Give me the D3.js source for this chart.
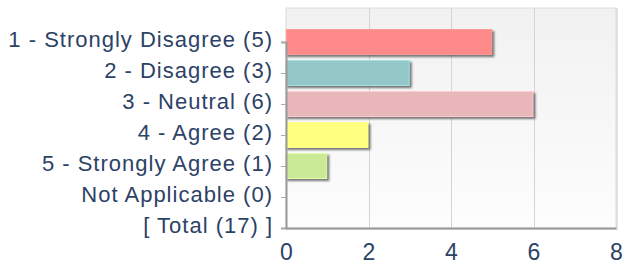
<!DOCTYPE html>
<html>
<head>
<meta charset="utf-8">
<script src="https://cdn.jsdelivr.net/npm/d3@7"></script>
<style>
  html, body { margin: 0; padding: 0; background: #ffffff; }
  svg { display: block; font-family: "Liberation Sans", Arial, sans-serif; }
</style>
</head>
<body>
<svg id="chart" width="623" height="267"></svg>
<script>
// answers and counts
const categories = [
  '1 - Strongly Disagree (5)',
  '2 - Disagree (3)',
  '3 - Neutral (6)',
  '4 - Agree (2)',
  '5 - Strongly Agree (1)',
  'Not Applicable (0)',
  '[ Total (17) ]'
];
const counts = [5, 3, 6, 2, 1, 0];
const barColors = ['#ff8a8a', '#94c8c8', '#e9b6bb', '#ffff80', '#cbea98', '#cccccc'];
const xTicks = [0, 2, 4, 6, 8];

const width = 623, height = 267;
const margin = {top: 8, right: 7, bottom: 39, left: 286};
const textColor = '#2c4266';

const svg = d3.select('#chart');

const x = d3.scaleLinear()
    .domain([0, 8])
    .range([margin.left, width - margin.right]);

const y = d3.scalePoint()
    .domain(categories)
    .range([42, height - margin.bottom]);

const barH = 26;

// plot background
const defs = svg.append('defs');
const grad = defs.append('linearGradient')
    .attr('id', 'bg')
    .attr('x1', 0).attr('y1', 0).attr('x2', 0).attr('y2', 1);
grad.append('stop').attr('offset', '0%').attr('stop-color', '#f1f1f1');
grad.append('stop').attr('offset', '100%').attr('stop-color', '#fdfdfd');

const shadow = defs.append('filter')
    .attr('id', 'soft')
    .attr('x', '-10%').attr('y', '-30%')
    .attr('width', '120%').attr('height', '160%');
shadow.append('feGaussianBlur').attr('stdDeviation', 0.8);

svg.append('rect')
    .attr('x', margin.left + 1)
    .attr('y', margin.top + 1)
    .attr('width', x(8) - margin.left)
    .attr('height', height - margin.bottom - margin.top)
    .attr('fill', 'none')
    .attr('stroke', '#e4e4e4')
    .attr('stroke-width', 2);

svg.append('rect')
    .classed('boundary', true)
    .attr('x', margin.left)
    .attr('y', margin.top)
    .attr('width', x(8) - margin.left)
    .attr('height', height - margin.bottom - margin.top)
    .attr('fill', 'url(#bg)')
    .attr('stroke', '#dadada')
    .attr('stroke-width', 1);

// vertical grid
svg.append('g')
    .attr('class', 'grid')
  .selectAll('line')
  .data(xTicks.slice(1, -1))
  .join('line')
    .attr('x1', d => Math.round(x(d)) + 0.5)
    .attr('x2', d => Math.round(x(d)) + 0.5)
    .attr('y1', margin.top)
    .attr('y2', height - margin.bottom)
    .attr('stroke', '#d4d4d4');

// bars with drop shadow
const rows = categories.slice(0, counts.length).map((c, i) => ({name: c, value: counts[i], color: barColors[i]}))
  .filter(d => d.value > 0);

const bars = svg.append('g').attr('class', 'bars');
bars.selectAll('.bar-shadow')
  .data(rows)
  .join('rect')
    .attr('class', 'bar-shadow')
    .attr('x', x(0) + 1)
    .attr('y', d => y(d.name) - barH / 2 + 2)
    .attr('width', d => x(d.value) - x(0) + 1)
    .attr('height', barH)
    .attr('fill', '#4a4a4a')
    .attr('opacity', 0.75)
    .attr('filter', 'url(#soft)');
bars.selectAll('.bar')
  .data(rows)
  .join('rect')
    .attr('class', 'bar')
    .attr('x', x(0) + 0.5)
    .attr('y', d => y(d.name) - barH / 2 + 0.5)
    .attr('width', d => x(d.value) - x(0) - 1)
    .attr('height', barH - 1)
    .attr('fill', d => d.color)
    .attr('stroke', d => d3.color(d.color).brighter(0.3))
    .attr('stroke-width', 1);

// axes
const yAxis = d3.axisLeft(y).tickSize(5).tickPadding(8);
const gy = svg.append('g')
    .attr('transform', `translate(${margin.left},0)`)
    .call(yAxis);
gy.select('.domain').attr('stroke', '#9a9a9a').attr('stroke-width', 2);
gy.selectAll('.tick line').attr('stroke', '#aaaaaa');
gy.selectAll('.tick text')
    .attr('fill', textColor)
    .attr('font-size', 22)
    .attr('letter-spacing', 1)
    .attr('dy', '0.22em');

const xAxis = d3.axisBottom(x).tickValues(xTicks).tickSize(0).tickPadding(16);
const gx = svg.append('g')
    .attr('transform', `translate(0,${height - margin.bottom})`)
    .call(xAxis);
gx.select('.domain').attr('stroke', '#9a9a9a').attr('stroke-width', 2);
gx.selectAll('.tick text')
    .attr('fill', textColor)
    .attr('font-size', 23);
</script>
</body>
</html>
